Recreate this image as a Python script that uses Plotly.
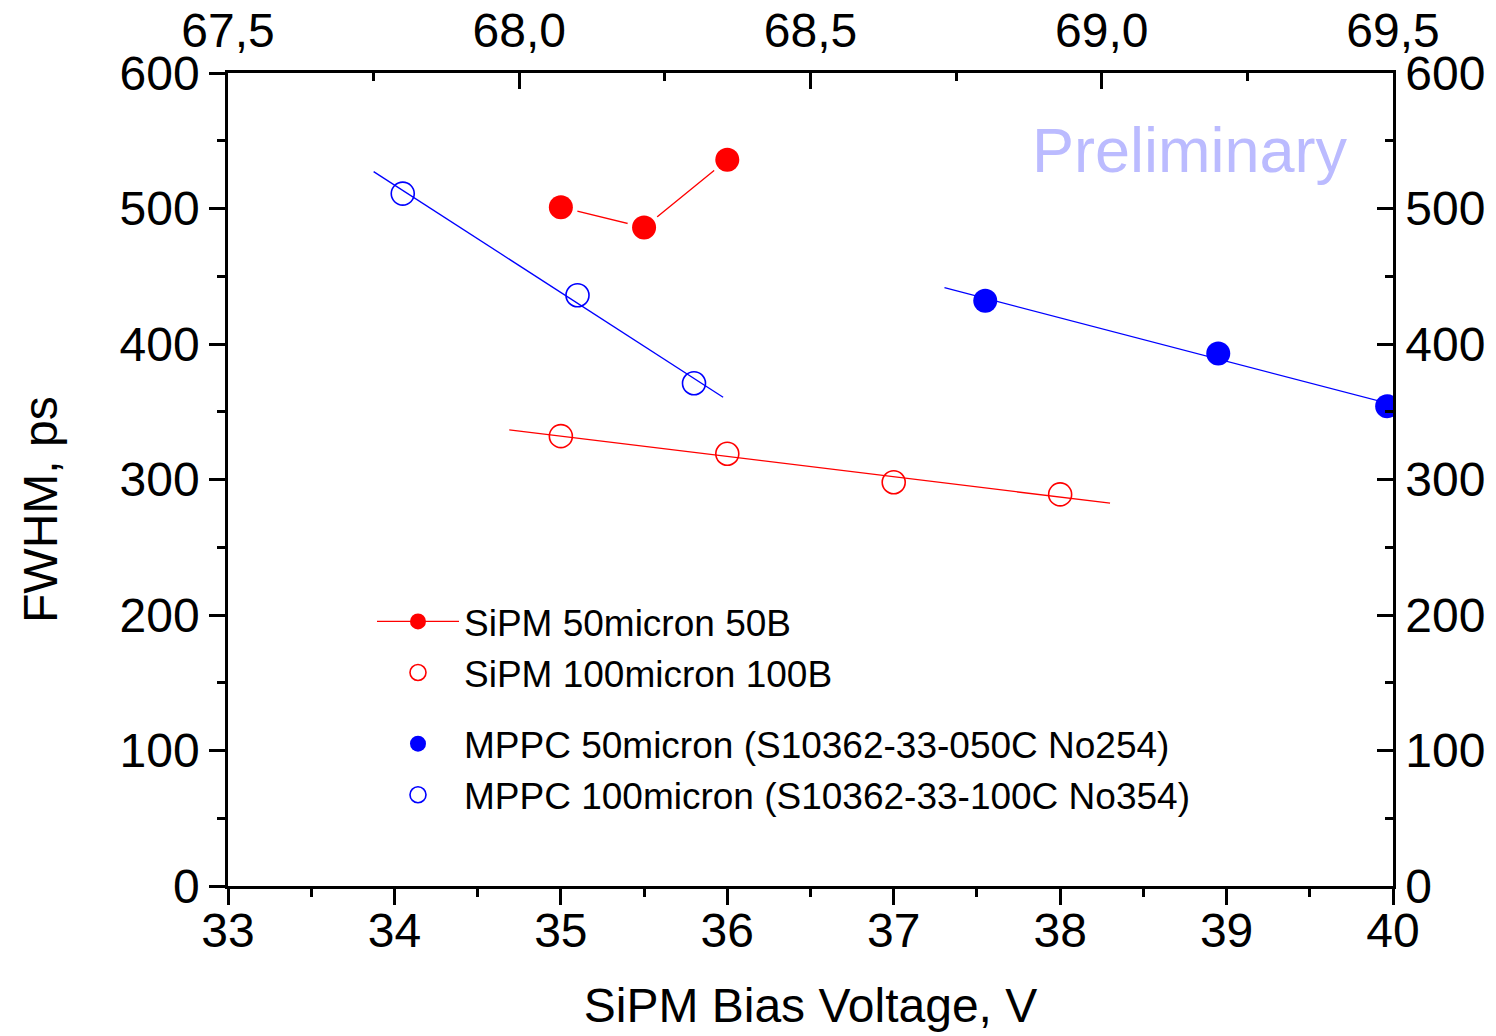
import numpy as np
import plotly.graph_objects as go

# --- data (bottom axis: SiPM bias voltage, V) ---
sipm50_x = [35.0, 35.5, 36.0]
sipm50_y = [501, 486, 536]
sipm100_x = [35.0, 36.0, 37.0, 38.0]
sipm100_y = [332, 319, 298, 289]
sipm100_fit_range = [34.69, 38.3]

# --- data (top axis: MPPC bias voltage, V) ---
mppc50_x = [68.80, 69.20, 69.49]
mppc50_y = [432, 393, 354]
mppc50_fit_range = [68.73, 69.6]
mppc100_x = [67.80, 68.10, 68.30]
mppc100_y = [511, 436, 371]
mppc100_fit_range = [67.75, 68.35]

bottom_ticks = [33, 34, 35, 36, 37, 38, 39, 40]
top_ticks = [67.5, 68.0, 68.5, 69.0, 69.5]
y_ticks = [0, 100, 200, 300, 400, 500, 600]

RED = "#FF0000"
BLUE = "#0000FF"
FONT = "Liberation Sans, Arial, sans-serif"


def fit_line(xs, ys, rng):
    k, b = np.polyfit(xs, ys, 1)
    xr = np.array(rng)
    return xr, k * xr + b


fig = go.Figure()

# SiPM 50 micron: line + markers, with small gaps around markers
fig.add_trace(go.Scatter(x=sipm50_x, y=sipm50_y, mode="lines+markers",
                         name="SiPM 50micron 50B", legendgroup="sipm",
                         line=dict(color=RED, width=1.3),
                         marker=dict(symbol="circle", size=24, color=RED),
                         xaxis="x", yaxis="y"))
fig.add_trace(go.Scatter(x=sipm50_x, y=sipm50_y, mode="markers", showlegend=False,
                         marker=dict(symbol="circle", size=34, color="white"),
                         hoverinfo="skip", xaxis="x", yaxis="y"))
fig.add_trace(go.Scatter(x=sipm50_x, y=sipm50_y, mode="markers", showlegend=False,
                         marker=dict(symbol="circle", size=24, color=RED),
                         xaxis="x", yaxis="y"))

# SiPM 100 micron: open markers + linear fit
fx, fy = fit_line(sipm100_x, sipm100_y, sipm100_fit_range)
fig.add_trace(go.Scatter(x=fx, y=fy, mode="lines", showlegend=False,
                         line=dict(color=RED, width=1.3), xaxis="x", yaxis="y"))
fig.add_trace(go.Scatter(x=sipm100_x, y=sipm100_y, mode="markers",
                         name="SiPM 100micron 100B", legendgroup="sipm",
                         marker=dict(symbol="circle-open", size=23, color=RED,
                                     line=dict(color=RED, width=1.6)),
                         xaxis="x", yaxis="y"))

# MPPC 50 micron: filled markers + linear fit (top axis)
fx, fy = fit_line(mppc50_x, mppc50_y, mppc50_fit_range)
fig.add_trace(go.Scatter(x=fx, y=fy, mode="lines", showlegend=False,
                         line=dict(color=BLUE, width=1.3), xaxis="x2", yaxis="y"))
fig.add_trace(go.Scatter(x=mppc50_x, y=mppc50_y, mode="markers",
                         name="MPPC 50micron (S10362-33-050C No254)", legendgroup="mppc",
                         marker=dict(symbol="circle", size=24, color=BLUE),
                         xaxis="x2", yaxis="y"))

# MPPC 100 micron: open markers + linear fit (top axis)
fx, fy = fit_line(mppc100_x, mppc100_y, mppc100_fit_range)
fig.add_trace(go.Scatter(x=fx, y=fy, mode="lines", showlegend=False,
                         line=dict(color=BLUE, width=1.3), xaxis="x2", yaxis="y"))
fig.add_trace(go.Scatter(x=mppc100_x, y=mppc100_y, mode="markers",
                         name="MPPC 100micron (S10362-33-100C No354)", legendgroup="mppc",
                         marker=dict(symbol="circle-open", size=23, color=BLUE,
                                     line=dict(color=BLUE, width=1.6)),
                         xaxis="x2", yaxis="y"))

# invisible trace to activate right y axis
fig.add_trace(go.Scatter(x=[None], y=[None], showlegend=False, xaxis="x", yaxis="y2"))

axis_common = dict(showgrid=False, zeroline=False, showline=True, linecolor="black",
                   linewidth=2.5, tickcolor="black", tickwidth=2.5, automargin=False,
                   tickfont=dict(family=FONT, size=48, color="black"))

fig.update_layout(
    width=1496, height=1036,
    margin=dict(l=228, r=103, t=73, b=150),
    paper_bgcolor="white", plot_bgcolor="white",
    separators=", ",
    font=dict(family=FONT, color="black"),
    xaxis=dict(range=[33, 40], tickvals=bottom_ticks, ticks="outside", ticklen=16,
               ticklabelstandoff=-15,
               minor=dict(dtick=0.5, ticks="outside", ticklen=8, tickwidth=2.5, tickcolor="black"),
               title=dict(text="SiPM Bias Voltage, V", font=dict(family=FONT, size=48), standoff=33),
               **axis_common),
    xaxis2=dict(range=[67.5, 69.5], overlaying="x", side="top", tickvals=top_ticks,
                tickformat=".1f", ticks="inside", ticklen=16, ticklabelstandoff=4,
                minor=dict(dtick=0.25, ticks="inside", ticklen=8, tickwidth=2.5, tickcolor="black"),
                **axis_common),
    yaxis=dict(range=[0, 600], tickvals=y_ticks, ticks="outside", ticklen=16,
               minor=dict(dtick=50, ticks="outside", ticklen=8, tickwidth=2.5, tickcolor="black"),
               **axis_common),
    yaxis2=dict(range=[0, 600], overlaying="y", side="right", tickvals=y_ticks,
                ticks="inside", ticklen=16,
                minor=dict(dtick=50, ticks="inside", ticklen=8, tickwidth=2.5, tickcolor="black"),
                **axis_common),
    legend=dict(x=0.1236, y=0.363, xanchor="left", yanchor="top",
                traceorder="grouped", tracegroupgap=20, itemwidth=82,
                font=dict(family=FONT, size=37, color="black"),
                bgcolor="rgba(0,0,0,0)", itemsizing="trace"),
    annotations=[
        dict(text="Preliminary", x=38.78, y=543, xref="x", yref="y",
             showarrow=False, font=dict(family=FONT, size=63, color="#BBBBFF")),
        dict(text="FWHM, ps", x=-0.1614, y=0.4637, xref="paper", yref="paper",
             textangle=-90, showarrow=False, xanchor="center", yanchor="middle",
             font=dict(family=FONT, size=48, color="black")),
    ],
)

fig.write_html("out.html",
               config={"displayModeBar": False},
               post_script="document.body.style.margin='0';document.body.style.overflow='hidden';")
